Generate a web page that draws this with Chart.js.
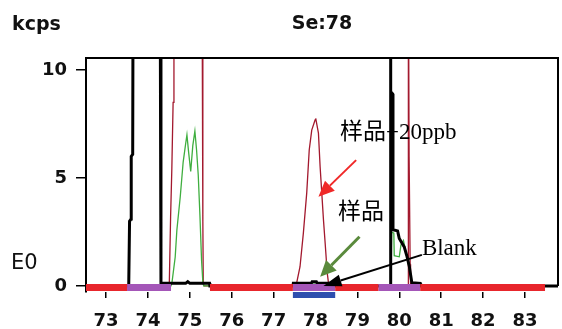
<!DOCTYPE html>
<html>
<head>
<meta charset="utf-8">
<script src="https://cdn.jsdelivr.net/npm/chart.js@4.4.0/dist/chart.umd.min.js"></script>
<style>
  body { margin: 0; background: #fff; }
  #wrap { width: 562px; height: 329px; position: relative; }
</style>
</head>
<body>
<div id="wrap"><canvas id="chart"></canvas></div>
<script>
// tick labels
var xTicks = [73, 74, 75, 76, 77, 78, 79, 80, 81, 82, 83];
var yTicks = [0, 5, 10];

// Blank (black trace)
var blankX = [72.52, 73.54, 73.56, 73.595, 73.6, 73.635, 73.645, 74.29, 74.31, 74.9, 74.95, 75.0, 75.47, 75.48,
  77.46, 77.47, 77.9, 77.92, 78.02, 78.04, 78.47, 78.48,
  79.78, 79.79, 79.8, 79.84, 79.85, 79.96, 80.0, 80.06, 80.12, 80.18, 80.24, 80.3, 80.5, 80.51, 83.79];
var blankY = [0, 0, 3.0, 3.1, 6.0, 6.1, 15, 15, 0.12, 0.12, 0.2, 0.12, 0.12, 0,
  0, 0.12, 0.12, 0.2, 0.2, 0.12, 0.12, 0,
  0, 15, 9.0, 8.9, 2.6, 2.55, 2.2, 2.0, 1.8, 1.4, 0.9, 0.15, 0.12, 0, 0];

// 样品 (green trace)
var sampleX = [72.52, 74.55, 74.575, 74.65, 74.69, 74.77, 74.84, 74.9, 74.93, 74.97, 75.02, 75.07, 75.12, 75.16, 75.2, 75.24, 75.28, 75.31, 75.33,
  77.5, 77.9, 78.1, 78.4, 79.8, 79.82, 79.87, 79.88, 80.0, 80.04, 80.1, 80.2, 80.3, 80.35, 83.79];
var sampleY = [0, 0, 0.19, 1.34, 2.59, 4.12, 5.74, 6.6, 7.0, 6.2, 5.3, 6.5, 7.17, 6.3, 5.14, 3.29, 1.16, 0.19, 0,
  0, 0.08, 0.08, 0, 0, 2.5, 2.45, 1.4, 1.35, 1.9, 2.1, 1.2, 0.1, 0, 0];

// 样品+20ppb (dark red trace)
var spikeX = [72.52, 74.5, 74.51, 74.54, 74.57, 74.6, 74.62, 75.29, 75.31, 75.32, 75.34,
  77.5, 77.55, 77.63, 77.71, 77.79, 77.85, 77.91, 77.99, 78.005, 78.07, 78.11, 78.15, 78.19, 78.23, 78.28, 78.31, 78.35,
  80.21, 80.215, 80.22, 80.235, 80.26, 80.27, 83.79];
var spikeY = [0, 0, 0.19, 3.2, 5.46, 8.5, 15, 15, 3.0, 0.1, 0,
  0, 0.14, 0.89, 2.45, 4.3, 6.3, 7.22, 7.69, 7.76, 7.08, 5.52, 4.3, 3.06, 1.99, 0.6, 0.14, 0,
  0, 15, 15, 6, 1, 0, 0];

// integration windows under the axis
var redBand = [[72.52, 73.5], [75.48, 77.46], [78.47, 79.5], [80.5, 83.48]];
var purpleBand = [[73.5, 74.55], [77.46, 78.47], [79.5, 80.5]];
var blueBand = [[77.46, 78.47]];

// annotations (data coordinates)
var notes = [
  { text: "样品+20ppb", x: 78.585, y: 7.08 },
  { text: "样品", x: 78.54, y: 3.38 },
  { text: "Blank", x: 80.54, y: 1.71 }
];
var arrows = [
  { from: [78.97, 5.83], to: [78.07, 4.13], color: "#f02828", lw: 2, head: 16, half: 7 },
  { from: [79.05, 2.28], to: [78.11, 0.43], color: "#5a8a3c", lw: 3, head: 16, half: 7.5 },
  { from: [80.54, 1.44], to: [78.19, 0.0], color: "#000000", lw: 2, head: 18, half: 6 }
];

function toPoints(xs, ys) {
  return xs.map(function (x, i) { return { x: x, y: ys[i] }; });
}

function bandPoints(segs, level) {
  var pts = [];
  segs.forEach(function (s) {
    pts.push({ x: s[0], y: level }, { x: s[1], y: level }, { x: s[1], y: null });
  });
  return pts;
}

function bandSet(segs, level, color, width) {
  return {
    data: bandPoints(segs, level),
    borderColor: color,
    borderWidth: width,
    borderCapStyle: "butt",
    pointRadius: 0,
    spanGaps: false,
    clip: false
  };
}

function traceSet(xs, ys, color, width) {
  return {
    data: toPoints(xs, ys),
    borderColor: color,
    borderWidth: width,
    pointRadius: 0,
    tension: 0
  };
}

function drawArrow(ctx, x1, y1, x2, y2, color, lw, head, half) {
  var ang = Math.atan2(y2 - y1, x2 - x1);
  var bx = x2 - head * Math.cos(ang), by = y2 - head * Math.sin(ang);
  ctx.strokeStyle = color;
  ctx.lineWidth = lw;
  ctx.beginPath();
  ctx.moveTo(x1, y1);
  ctx.lineTo(bx, by);
  ctx.stroke();
  ctx.fillStyle = color;
  ctx.beginPath();
  ctx.moveTo(x2, y2);
  ctx.lineTo(bx + half * Math.sin(ang), by - half * Math.cos(ang));
  ctx.lineTo(bx - half * Math.sin(ang), by + half * Math.cos(ang));
  ctx.closePath();
  ctx.fill();
}

var overlay = {
  id: "overlay",
  afterDatasetsDraw: function (chart) {
    var ctx = chart.ctx, a = chart.chartArea;
    var xs = chart.scales.x, ys = chart.scales.y;
    ctx.save();
    // frame top + right
    ctx.strokeStyle = "#000";
    ctx.lineWidth = 2;
    ctx.beginPath();
    ctx.moveTo(a.left, a.top);
    ctx.lineTo(a.right, a.top);
    ctx.lineTo(a.right, ys.getPixelForValue(0));
    ctx.stroke();

    // header texts
    ctx.fillStyle = "#111";
    ctx.textBaseline = "middle";
    ctx.font = "bold 19px 'DejaVu Sans'";
    ctx.textAlign = "left";
    ctx.fillText("kcps", 12, 25);
    ctx.textAlign = "center";
    ctx.fillText("Se:78", (a.left + a.right) / 2, 24);
    ctx.textAlign = "left";
    ctx.font = "21px 'DejaVu Sans'";
    ctx.fillText("E0", 11, 264);

    // arrows
    arrows.forEach(function (ar) {
      drawArrow(ctx,
        xs.getPixelForValue(ar.from[0]), ys.getPixelForValue(ar.from[1]),
        xs.getPixelForValue(ar.to[0]), ys.getPixelForValue(ar.to[1]),
        ar.color, ar.lw, ar.head, ar.half);
    });

    // labels
    ctx.fillStyle = "#000";
    ctx.font = "23px 'Liberation Serif', 'Noto Sans CJK SC', serif";
    ctx.textAlign = "left";
    notes.forEach(function (n) {
      ctx.fillText(n.text, xs.getPixelForValue(n.x), ys.getPixelForValue(n.y));
    });
    ctx.restore();
  }
};

var tickFont = { family: "DejaVu Sans", size: 18, weight: "bold" };

new Chart(document.getElementById("chart"), {
  type: "line",
  data: {
    datasets: [
      bandSet(redBand, -0.07, "#e8262c", 7),
      bandSet(purpleBand, -0.07, "#a456b8", 7),
      bandSet(blueBand, -0.42, "#2e4fae", 6),
      traceSet(blankX, blankY, "#000000", 3),
      traceSet(sampleX, sampleY, "#3fae3f", 1.3),
      traceSet(spikeX, spikeY, "#a3192e", 1.3)
    ]
  },
  options: {
    responsive: true,
    maintainAspectRatio: false,
    animation: false,
    layout: { padding: { top: 58, right: 4, left: 0, bottom: 0 } },
    plugins: { legend: { display: false }, tooltip: { enabled: false }, title: { display: false } },
    scales: {
      x: {
        type: "linear",
        min: 72.52,
        max: 83.79,
        afterBuildTicks: function (s) { s.ticks = xTicks.map(function (v) { return { value: v }; }); },
        afterFit: function (s) { s.height = 37; },
        ticks: { font: tickFont, color: "#111", padding: 13, maxRotation: 0, autoSkip: false },
        grid: { drawOnChartArea: false, tickLength: 6, color: "#000", lineWidth: 1.5 },
        border: { display: false }
      },
      y: {
        type: "linear",
        min: -0.28,
        max: 10.56,
        afterBuildTicks: function (s) { s.ticks = yTicks.map(function (v) { return { value: v }; }); },
        afterFit: function (s) { s.width = 86; },
        ticks: { font: tickFont, color: "#111", padding: 9 },
        grid: { drawOnChartArea: false, tickLength: 10, color: "#000", lineWidth: 1.5 },
        border: { display: true, color: "#000", width: 2 }
      }
    }
  },
  plugins: [overlay]
});
</script>
</body>
</html>
